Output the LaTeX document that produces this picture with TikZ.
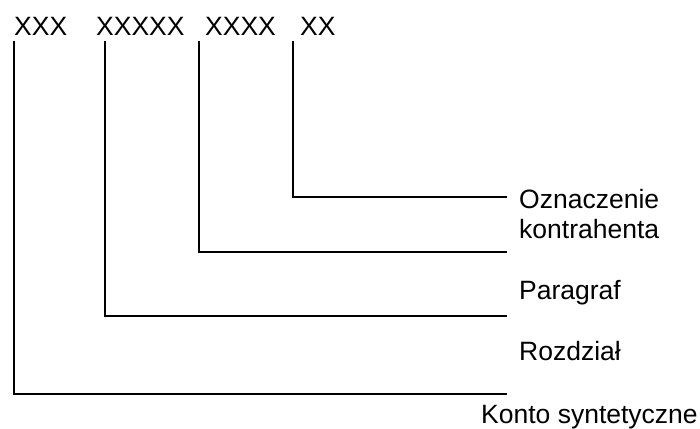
\documentclass[tikz,border=0pt]{standalone}
\usepackage{fontspec}
\setmainfont{Liberation Sans}
\begin{document}
\begin{tikzpicture}[x=1pt,y=-1pt,
  lbl/.style={anchor=base west,inner sep=0pt,font=\fontsize{26.5}{30}\selectfont},
  conn/.style={line width=2.2pt,line join=miter}]
\useasboundingbox (0,0) rectangle (700,428);
% top codes
\node[lbl] (g1) at (14,35) {XXX};
\node[lbl] (g2) at (96,35) {XXXXX};
\node[lbl] (g3) at (205,35) {XXXX};
\node[lbl] (g4) at (300,35) {XX};
% labels
\node[lbl] (l4a) at (519,208) {Oznaczenie};
\node[lbl] (l4b) at (519,238) {kontrahenta};
\node[lbl] (l3) at (519,299) {Paragraf};
\node[lbl] (l2) at (519,360) {Rozdział};
\node[lbl] (l1) at (481,423) {Konto syntetyczne};
% connector endpoints
\coordinate (t1) at (14,41);
\coordinate (t2) at (105,41);
\coordinate (t3) at (199,41);
\coordinate (t4) at (293,41);
\coordinate (e1) at (507,394);
\coordinate (e2) at (507,316);
\coordinate (e3) at (507,252);
\coordinate (e4) at (507,197);
\draw[conn] (t1) |- (e1);
\draw[conn] (t2) |- (e2);
\draw[conn] (t3) |- (e3);
\draw[conn] (t4) |- (e4);
\end{tikzpicture}
\end{document}
